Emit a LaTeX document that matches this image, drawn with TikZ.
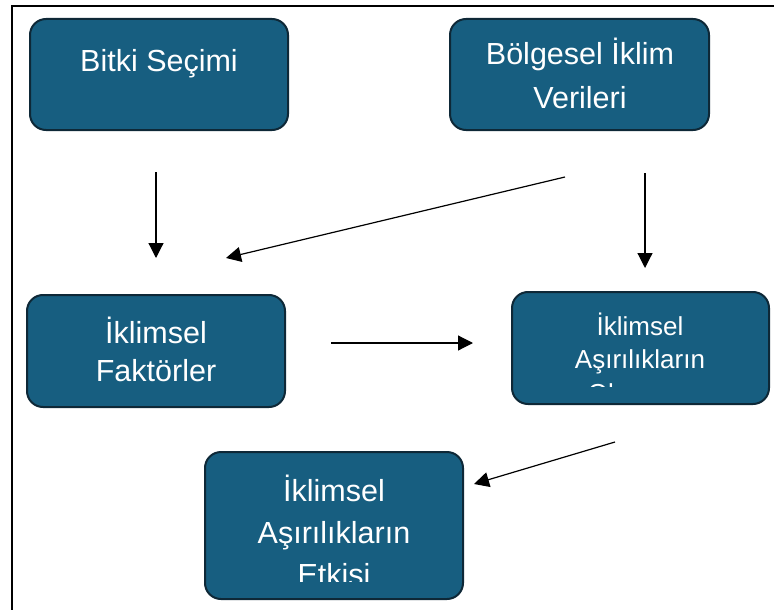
\documentclass[tikz,border=0pt]{standalone}
\usepackage{fontspec}
\setmainfont{Liberation Sans}
\usetikzlibrary{arrows.meta}
\definecolor{boxfill}{RGB}{23,94,128}
\definecolor{boxline}{RGB}{14,40,55}
\tikzset{
  box/.style={draw=boxline, line width=2pt, fill=boxfill, rounded corners=16pt, inner sep=0pt},
  lbl/.style={text=white, anchor=base, inner sep=0pt},
  big/.style={font=\fontsize{30.5}{36}\selectfont},
  small/.style={font=\fontsize{26}{31}\selectfont},
  conn/.style={line width=1.2pt, -{Triangle[length=15pt,width=15pt]}}
}
\begin{document}
\begin{tikzpicture}[x=1pt,y=-1pt]
\useasboundingbox (0,0) rectangle (774,610);
% frame
\draw[line width=2.3pt] (12,640) -- (12,6) -- (800,6);
% boxes
\draw[box] (30,19) rectangle (288,130);
\draw[box] (450,19) rectangle (709,130);
\draw[box] (27,295) rectangle (285,407);
\draw[box] (512,292) rectangle (769,404);
\draw[box] (205,452) rectangle (463,599);
% texts
\node[lbl,big] (t1) at (159,72) {Bitki Seçimi};
\node[lbl,big] (t2a) at (580,65) {Bölgesel İklim};
\node[lbl,big] (t2b) at (580,108) {Verileri};
\node[lbl,big] (t3a) at (156,343) {İklimsel};
\node[lbl,big] (t3b) at (156,381) {Faktörler};
\begin{scope}
\clip (512,292) rectangle (769,386);
\node[lbl,small] (t4a) at (640,335) {İklimsel};
\node[lbl,small] (t4b) at (640,368) {Aşırılıkların};
\node[lbl,small] (t4c) at (640,402) {Oluşumu};
\end{scope}
\begin{scope}
\clip (205,452) rectangle (463,581);
\node[lbl,big] (t5a) at (334,501) {İklimsel};
\node[lbl,big] (t5b) at (334,543) {Aşırılıkların};
\node[lbl,big] (t5c) at (334,585) {Etkisi};
\end{scope}
% connectors
\coordinate (a1s) at (156,172); \coordinate (a1e) at (156,258);
\coordinate (a2s) at (565,177); \coordinate (a2e) at (226,258);
\coordinate (a3s) at (645,173); \coordinate (a3e) at (645,268);
\coordinate (a4s) at (331,343); \coordinate (a4e) at (473,343);
\coordinate (a5s) at (615,442); \coordinate (a5e) at (474,484);
\draw[conn] (a1s) -- (a1e);
\draw[conn] (a2s) -- (a2e);
\draw[conn] (a3s) -- (a3e);
\draw[conn] (a4s) -- (a4e);
\draw[conn] (a5s) -- (a5e);
\end{tikzpicture}
\end{document}
